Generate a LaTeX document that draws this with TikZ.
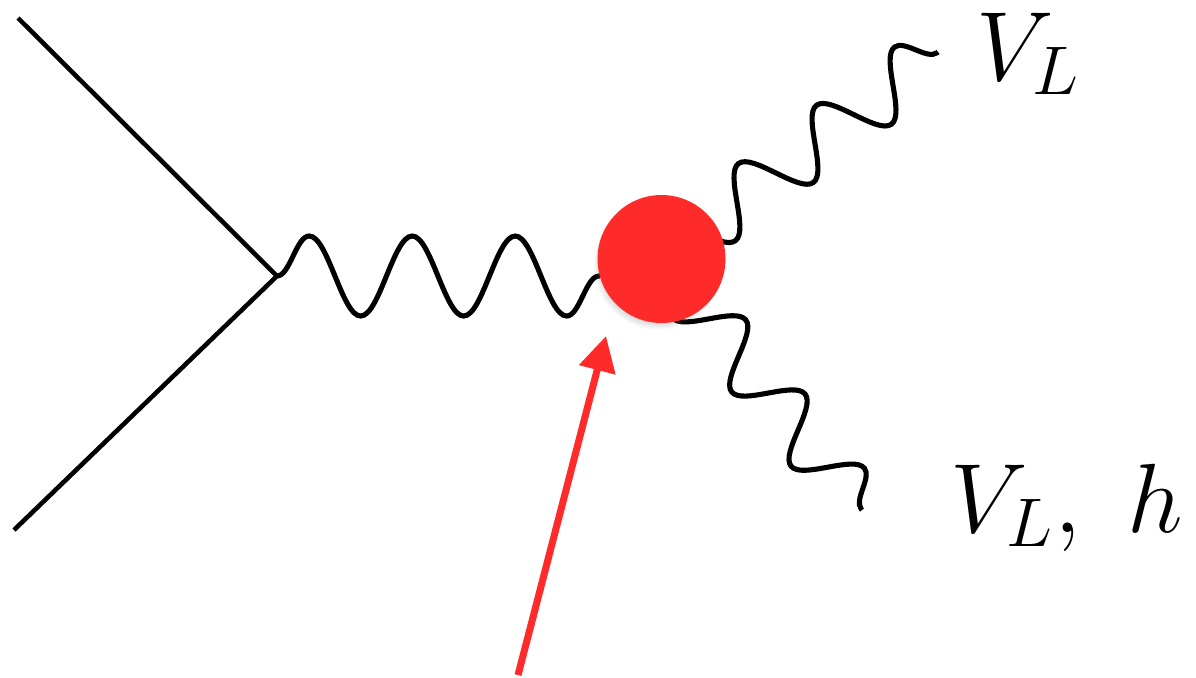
\RequirePackage{fix-cm}
\documentclass[tikz,border=0pt]{standalone}
\usepackage{xcolor}
\usepackage{tikz}
\usetikzlibrary{decorations.pathmorphing,arrows.meta,shadows}
\definecolor{BlobRed}{HTML}{FF2A2A}

\begin{document}
\begin{tikzpicture}[x=1cm,y=1cm,
  fermion/.style={line width=1.3pt},
  boson/.style 2 args={line width=1.45pt,decorate,
    decoration={snake,amplitude=#1,segment length=#2}},
  blob/.style={circle,fill=BlobRed,minimum size=1.28cm,inner sep=0pt,
    circular drop shadow={shadow xshift=-1pt,shadow yshift=-1.5pt,shadow scale=1.02,opacity=.35}},
  pointer/.style={BlobRed,line width=2pt,-{Triangle[length=3.5mm,width=3.6mm]}},
  label/.style={anchor=base west,inner sep=0pt,font=\fontsize{28}{34}\selectfont}]
\path[use as bounding box] (0,0) rectangle (11.96,6.77);
% legs
\coordinate (fa) at (0.18,6.59);
\coordinate (fb) at (0.14,1.47);
\coordinate (fv) at (2.77,4.01);
\coordinate (pend) at (6.00,4.01);
\coordinate (wu0) at (6.54,4.13);
\coordinate (wd0) at (6.46,4.37);
\coordinate (vu) at (9.38,6.25);
\coordinate (vd) at (8.62,1.67);
\draw[fermion] (fa) -- (fv) -- (fb);
\draw[boson={0.40cm}{1.03cm}] (fv) -- (pend);
\draw[boson={0.30cm}{0.974cm}] (wu0) -- (vu);
\draw[boson={0.28cm}{0.95cm}] (wd0) -- (vd);
% vertex
\node[blob] (blob) at (6.615,4.18) {};
% pointer
\coordinate (tail) at (5.18,0.02);
\coordinate (tip) at (6.06,3.41);
\draw[pointer] (tail) -- (tip);
% labels
\node[label] (lu) at (9.76,5.97) {$V_L$};
\node[label] (ld) at (9.50,1.45) {$V_L,\ h$};
\end{tikzpicture}
\end{document}
